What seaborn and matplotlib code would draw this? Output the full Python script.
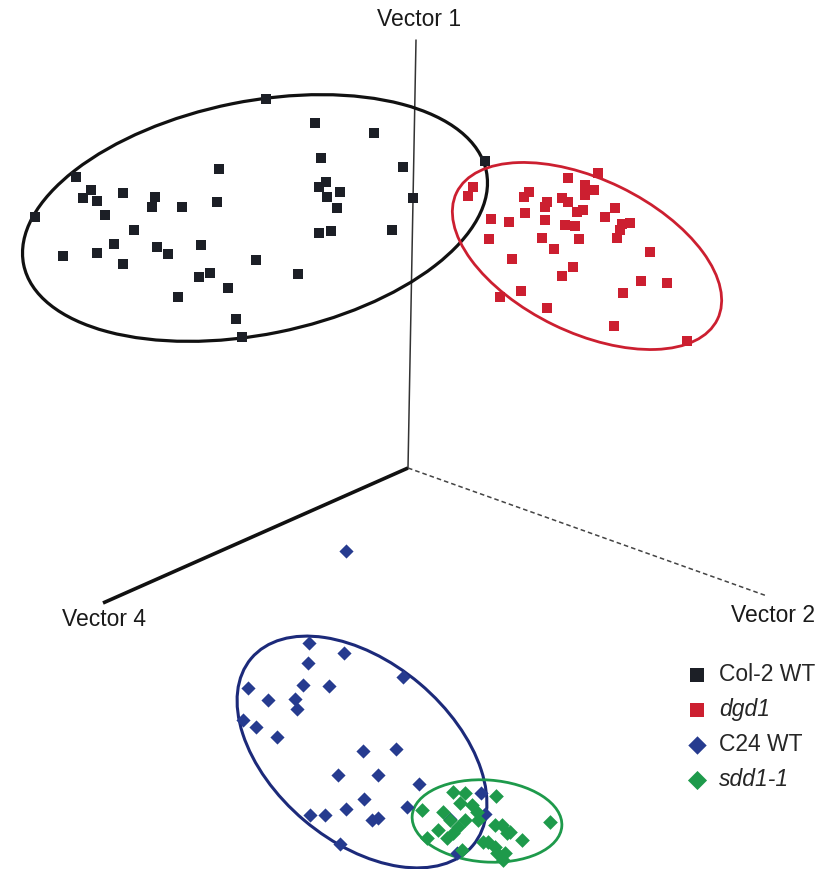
import numpy as np
import pandas as pd
import seaborn as sns
from matplotlib import pyplot as plt
from matplotlib.patches import Ellipse

# point positions (pixel space of the projected 3D view)
col2_x = [266, 315, 374, 321, 403, 485, 219, 76, 91, 83, 97, 123, 155, 152, 182,
          217, 326, 319, 340, 327, 337, 413, 35, 105, 134, 319, 331, 392, 63, 97,
          114, 157, 168, 201, 123, 256, 199, 210, 298, 178, 228, 236, 242]
col2_y = [99, 123, 133, 158, 167, 161, 169, 177, 190, 198, 201, 193, 197, 207, 207,
          202, 182, 187, 192, 197, 208, 198, 217, 215, 230, 233, 231, 230, 256, 253,
          244, 247, 254, 245, 264, 260, 277, 273, 274, 297, 288, 319, 337]

dgd1_x = [568, 598, 585, 594, 585, 529, 524, 547, 545, 562, 568, 577, 583, 615, 605,
          525, 491, 509, 545, 565, 575, 622, 630, 620, 617, 489, 542, 554, 579, 650,
          512, 573, 562, 641, 667, 521, 623, 500, 547, 614, 687, 473, 468]
dgd1_y = [178, 173, 185, 190, 195, 192, 197, 202, 207, 198, 202, 212, 210, 208, 217,
          213, 219, 222, 220, 225, 226, 224, 223, 230, 238, 239, 238, 249, 239, 252,
          259, 267, 276, 281, 283, 291, 293, 297, 308, 326, 341, 187, 196]

c24_x = [309, 344, 308, 403, 248, 303, 329, 268, 295, 297, 243, 256, 277, 363, 396,
         338, 378, 419, 364, 346, 407, 310, 325, 372, 378, 340, 481, 485, 450, 457, 346]
c24_y = [643, 653, 663, 677, 688, 685, 686, 700, 699, 709, 720, 727, 737, 751, 749,
         775, 775, 784, 799, 809, 807, 815, 815, 820, 818, 844, 793, 814, 819, 853, 551]

sdd1_x = [453, 465, 496, 422, 443, 460, 472, 477, 450, 465, 478, 427, 438, 453, 458,
          495, 502, 507, 488, 522, 495, 497, 505, 503, 462, 550, 447, 483, 510]
sdd1_y = [792, 793, 796, 810, 812, 803, 805, 812, 820, 820, 820, 838, 830, 833, 827,
          825, 825, 833, 842, 840, 847, 853, 853, 860, 850, 822, 838, 842, 832]

groups = ['Col-2 WT', 'dgd1', 'C24 WT', 'sdd1-1']
colors = ['#1c1f26', '#cc1f30', '#263b8f', '#1e9a4b']
markers = ['s', 's', 'D', 'D']
marker_sizes = [52, 62, 52, 56]
italic = [False, True, False, True]

# ellipses: centre x, centre y, width, height, angle
ell_cx = [255, 587, 362, 487]
ell_cy = [218, 256, 752, 821]
ell_w = [472, 290, 290, 150]
ell_h = [233, 153, 179, 82]
ell_angle = [-11.4, 25.9, 40.2, 4]
ell_colors = ['#111111', '#cc1f30', '#1c2a7a', '#1e9a4b']
ell_lw = [2.3, 2.0, 2.2, 2.0]

# projected axes
axis_names = ['Vector 1', 'Vector 4', 'Vector 2']
origin = (408, 468)
axis_end_x = [416, 103, 767]
axis_end_y = [40, 603, 596]
label_x = [419, 104, 773]
label_y = [20, 620, 616]

df = pd.DataFrame({
    'x': col2_x + dgd1_x + c24_x + sdd1_x,
    'y': col2_y + dgd1_y + c24_y + sdd1_y,
    'group': ['Col-2 WT'] * len(col2_x) + ['dgd1'] * len(dgd1_x)
             + ['C24 WT'] * len(c24_x) + ['sdd1-1'] * len(sdd1_x),
})

sns.set_style('white')
plt.rcParams['font.family'] = ['Liberation Sans', 'DejaVu Sans']

fig = plt.figure(figsize=(8.36, 8.69), dpi=100)
ax = fig.add_axes([0, 0, 1, 1])

# axes of the 3D view
ax.plot([origin[0], axis_end_x[0]], [origin[1], axis_end_y[0]],
        color='#333333', lw=1.1, zorder=1)
ax.plot([origin[0], axis_end_x[1]], [origin[1], axis_end_y[1]],
        color='#111111', lw=2.6, zorder=1, solid_capstyle='butt')
ax.plot([origin[0], axis_end_x[2]], [origin[1], axis_end_y[2]],
        color='#444444', lw=1.1, ls=(0, (3, 2)), zorder=1)
for name, lx, ly in zip(axis_names, label_x, label_y):
    ax.text(lx, ly, name, fontsize=16.5, ha='center', va='center',
            color='#1a1a1a')

for cx, cy, w, h, a, c, lw in zip(ell_cx, ell_cy, ell_w, ell_h, ell_angle,
                                  ell_colors, ell_lw):
    ax.add_patch(Ellipse((cx, cy), w, h, angle=a, fill=False,
                         edgecolor=c, lw=lw, zorder=2))

for g, c, m, s in zip(groups, colors, markers, marker_sizes):
    sns.scatterplot(data=df[df['group'] == g], x='x', y='y', color=c,
                    marker=m, s=s, linewidth=0, ax=ax, label=g, zorder=3)
ax.set_xlim(0, 836)
ax.set_ylim(869, 0)
ax.axis('off')

leg = ax.legend(loc='upper left', bbox_to_anchor=(0.820, 0.2365),
                bbox_transform=fig.transFigure, frameon=False,
                fontsize=16.5, markerscale=1.3, handlelength=1.0,
                handletextpad=0.45, labelspacing=0.52, borderpad=0,
                borderaxespad=0)
for t, it in zip(leg.get_texts(), italic):
    if it:
        t.set_fontstyle('italic')

fig.savefig('out.png', dpi=100)
